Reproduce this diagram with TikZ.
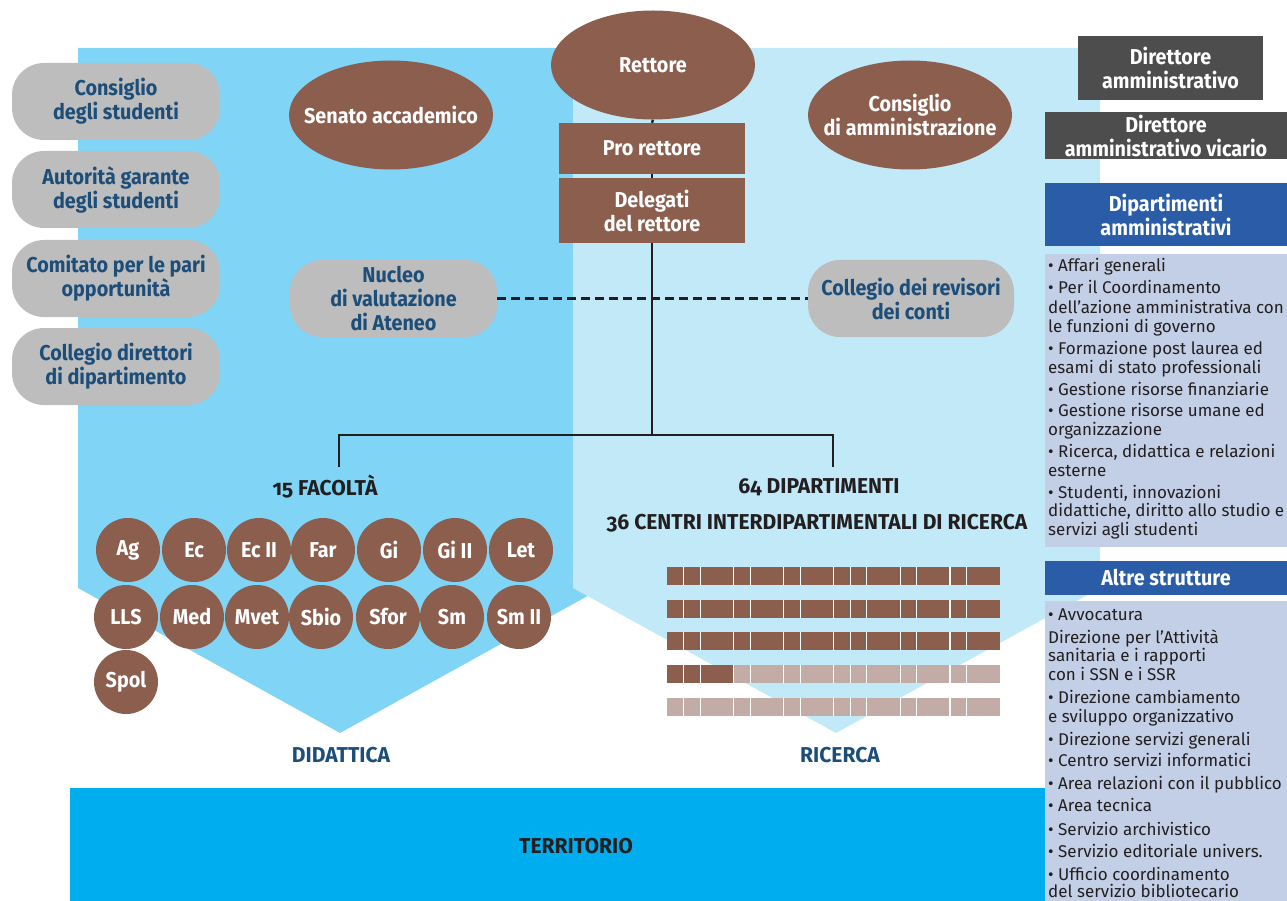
\documentclass[tikz,border=0pt]{standalone}
\usepackage{fontspec}
\setmainfont{Fira Sans}
\newfontfamily\cond[FakeStretch=0.92]{Fira Sans}
\newfontfamily\wcond[FakeStretch=0.98]{Fira Sans}
\usetikzlibrary{shapes.geometric}
\definecolor{bgdark}{RGB}{128,212,246}
\definecolor{bglight}{RGB}{193,233,248}
\definecolor{terr}{RGB}{0,173,238}
\definecolor{brownc}{RGB}{139,94,78}
\definecolor{brownl}{RGB}{196,172,166}
\definecolor{pillg}{RGB}{189,189,189}
\definecolor{navy}{RGB}{29,78,122}
\definecolor{darkg}{RGB}{77,77,77}
\definecolor{hblue}{RGB}{42,92,168}
\definecolor{panel}{RGB}{195,207,230}
\definecolor{ink}{RGB}{35,31,32}
\begin{document}
\begin{tikzpicture}[x=1pt,y=-1pt,
  lbl/.style={font=\cond\bfseries\fontsize{21.5}{24}\selectfont, align=center, inner sep=0},
  pill/.style={lbl, fill=pillg, text=navy, rounded corners=32, minimum width=208, minimum height=77},
  oval/.style={ellipse, fill=brownc, inner sep=0, minimum width=204, minimum height=109},
  ovaltext/.style={lbl, text=white},
  bbox/.style={lbl, rectangle, fill=brownc, text=white, minimum width=186},
  hbox/.style={lbl, rectangle, text=white},
  fac/.style={lbl, circle, fill=brownc, text=white, minimum size=64},
  conn/.style={draw=ink, line width=2.5},
  dconn/.style={draw=ink, line width=2.5, dash pattern=on 9 off 5},
  big/.style={font=\wcond\bfseries\fontsize{21.5}{24}\selectfont\addfontfeatures{Numbers=OldStyle}, inner sep=0, anchor=base, text=ink},
  sec/.style={font=\wcond\bfseries\fontsize{21.5}{24}\selectfont, inner sep=0, anchor=base, text=navy},
  item/.style={font=\fontsize{17}{19}\selectfont, inner sep=0, anchor=base west, text=ink}
]
\useasboundingbox (0,0) rectangle (1287,901);
% backgrounds
\fill[bgdark] (78,48) -- (602,48) -- (602,588) -- (340,733) -- (78,588) -- cycle;
\fill[bglight] (573,48) -- (1100,48) -- (1100,588) -- (836,733) -- (573,588) -- cycle;
\fill[terr] (70,788) rectangle (1045,901);
% right column
\fill[panel] (1045,254) rectangle (1287,547);
\fill[panel] (1045,601) rectangle (1287,901);
\node[hbox, fill=darkg, minimum width=185, minimum height=64] (da) at (1170.5,68) {Direttore\\amministrativo};
\node[hbox, fill=darkg, minimum width=242, minimum height=47] (dav) at (1166,135.5) {Direttore\\amministrativo vicario};
\node[hbox, fill=hblue, minimum width=242, minimum height=63] (dip) at (1166,214.5) {Dipartimenti\\amministrativi};
\node[hbox, fill=hblue, minimum width=242, minimum height=34] (altre) at (1166,578) {Altre strutture};
% left pills
\node[pill] (cs) at (116,101.5) {Consiglio\\degli studenti};
\node[pill] (ag) at (116,189.5) {Autorità garante\\degli studenti};
\node[pill] (cp) at (116,278.5) {Comitato per le pari\\opportunità};
\node[pill] (cd) at (116,366.5) {Collegio direttori\\di dipartimento};
% central organs
\node[oval, label={[ovaltext]center:Senato accademico}] (senato) at (391,115) {};
\node[oval, label={[ovaltext]center:Rettore}] (rettore) at (653,65) {};
\node[oval, label={[ovaltext]center:{Consiglio\\di amministrazione}}] (cda) at (910,115) {};
\node[bbox, minimum height=51] (pro) at (652,148.5) {Pro rettore};
\node[bbox, minimum height=65] (del) at (652,210.5) {Delegati\\del rettore};
\node[pill, minimum width=207] (nucleo) at (393.5,298.5) {Nucleo\\di valutazione\\di Ateneo};
\node[pill, minimum width=206] (rev) at (911,298.5) {Collegio dei revisori\\dei conti};
% connectors
\coordinate (j) at (652,435);
\coordinate (fa) at (339,467);
\coordinate (di) at (833,467);
\draw[dconn] (nucleo.east) -- (rev.west);
\draw[conn] (del.south) -- (j);
\draw[conn] (fa) |- (j) -| (di);
\draw[conn] (rettore.south) -- (pro.north);
\draw[conn] (pro.south) -- (del.north);
% labels
\node[big] (nfac) at (325,495) {15 FACOLTÀ};
\node[big] (ndip) at (819,493) {64 DIPARTIMENTI};
\node[big] (ncen) at (817,529) {36 CENTRI INTERDIPARTIMENTALI DI RICERCA};
\node[sec] (did) at (341,762) {DIDATTICA};
\node[sec] (ric) at (840,762) {RICERCA};
\node[big] (terrl) at (576,853) {TERRITORIO};
% faculties
\foreach \n/\x/\y/\t in {1/128/550/Ag, 2/194/550/Ec, 3/259/550/Ec II, 4/323/550/Far, 5/389/550/Gi, 6/455/550/Gi II, 7/521/550/Let,
  8/126/617/LLS, 9/192/617/Med, 10/257/617/Mvet, 11/321/617/Sbio, 12/388/617/Sfor, 13/452/617/Sm, 14/519/617/Sm II, 15/126/682/Spol}
  \node[fac] (f\n) at (\x,\y) {\t};
% research bars
\foreach \r/\y in {1/567, 2/600, 3/632, 4/665, 5/698} {
  \ifnum\r<4
    \fill[brownc] (667,\y) rectangle (1000,\y+18);
  \else\ifnum\r=4
    \fill[brownl] (667,\y) rectangle (1000,\y+18);
    \fill[brownc] (667,\y) rectangle (733.6,\y+18);
  \else
    \fill[brownl] (667,\y) rectangle (1000,\y+18);
  \fi\fi
  \foreach \k in {1,2,4,5,7,8,10,11,12,14,15,17,18}
    \fill[white] (667+16.65*\k-0.6,\y) rectangle (667+16.65*\k+0.6,\y+18);
}
% lists
\foreach \y/\t in {271.7/{• Affari generali}, 293.3/{• Per il Coordinamento}, 313.3/{dell’azione amministrativa con}, 332.7/{le funzioni di governo},
  354/{• Formazione post laurea ed}, 373.3/{esami di stato professionali}, 395/{• Gestione risorse finanziarie}, 416.7/{• Gestione risorse umane ed},
  435/{organizzazione}, 457.3/{• Ricerca, didattica e relazioni}, 476.7/{esterne}, 498.3/{• Studenti, innovazioni},
  516.7/{didattiche, diritto allo studio e}, 535.7/{servizi agli studenti}}
  \node[item] (a\y) at (1048,\y) {\t};
\foreach \y/\t in {620.7/{• Avvocatura}, 643.3/{Direzione per l’Attività}, 661.7/{sanitaria e i rapporti}, 680.7/{con i SSN e i SSR},
  703.3/{• Direzione cambiamento}, 722.3/{e sviluppo organizzativo}, 745/{• Direzione servizi generali}, 766.7/{• Centro servizi informatici},
  789.3/{• Area relazioni con il pubblico}, 811.7/{• Area tecnica}, 835/{• Servizio archivistico}, 857.7/{• Servizio editoriale univers.},
  880/{• Ufficio coordinamento}, 897.3/{del servizio bibliotecario}}
  \node[item] (b\y) at (1048,\y) {\t};
\end{tikzpicture}
\end{document}
